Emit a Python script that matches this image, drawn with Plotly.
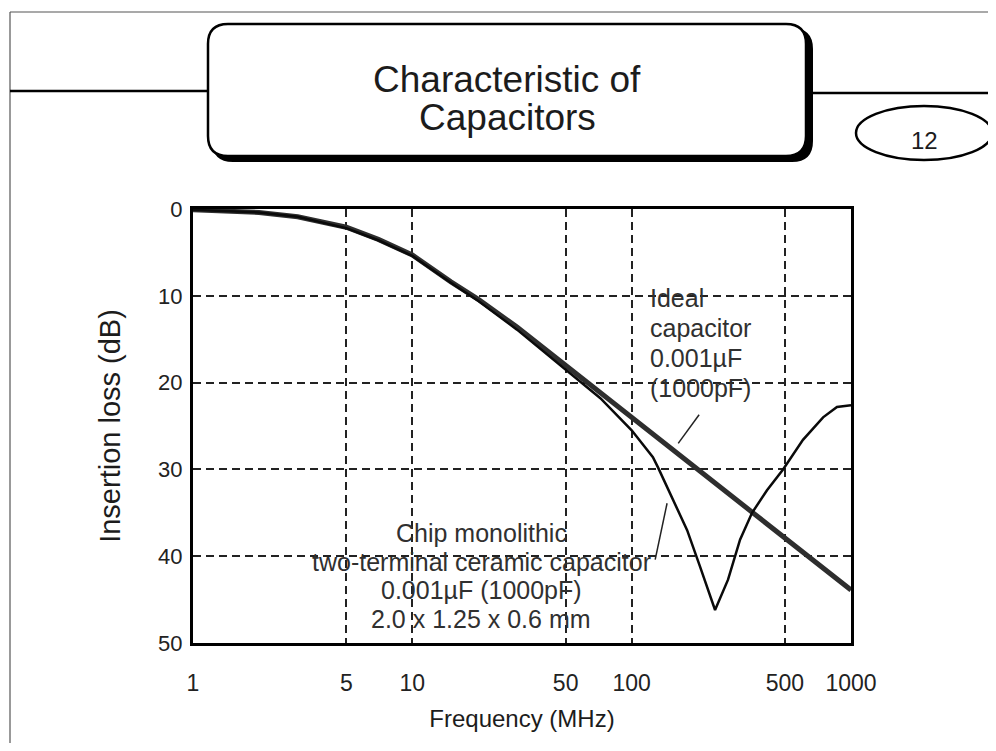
import plotly.graph_objects as go

# ---------------- data ----------------
freq_ideal = [1, 2, 3, 5, 7, 10, 15, 20, 30, 50, 70, 100, 150, 200, 300, 500, 700, 1000]
loss_ideal = [0.1, 0.4, 0.9, 2.1, 3.5, 5.3, 8.4, 10.4, 13.6, 18.0, 20.9, 24.0, 27.4, 30.0, 33.5, 37.9, 40.8, 43.9]

freq_chip = [1, 2, 3, 5, 7, 10, 15, 20, 30, 50, 72, 100, 125, 132, 155, 179, 205, 240,
             275, 312, 354, 414, 490, 604, 746, 863, 1000]
loss_chip = [0.1, 0.4, 0.9, 2.2, 3.6, 5.4, 8.5, 10.6, 13.9, 18.5, 21.8, 25.5, 28.6, 29.8, 33.5, 37.0, 41.2, 46.2,
             42.7, 38.1, 35.0, 32.4, 30.0, 26.6, 24.0, 22.8, 22.6]

x_tick_vals = [1, 5, 10, 50, 100, 500, 1000]
x_tick_text = ["1", "5", "10", "50", "100", "500", "1000"]
y_tick_vals = [0, 10, 20, 30, 40, 50]
y_tick_text = ["0", "10", "20", "30", "40", "50"]

# leader lines (frequency, dB)
leader_ideal_f = [203, 163]
leader_ideal_db = [23.7, 27.0]
leader_chip_f = [145, 128]
leader_chip_db = [33.9, 40.4]

title_lines = ["Characteristic of", "Capacitors"]
ideal_lines = ["Ideal", "capacitor", "0.001\u00b5F", "(1000pF)"]
chip_lines = ["Chip monolithic", "two-terminal ceramic capacitor", "0.001\u00b5F (1000pF)", "2.0 x 1.25 x 0.6 mm"]
page_no = "12"

# ---------------- layout geometry ----------------
OFF = 8  # page body margin of the html page
W, H = 996 - OFF, 751 - 2 * OFF
RL, RR, RT, RB = 193, 851, 209, 643  # plot area in page pixels
L, R, T, B = RL - OFF, RR - OFF, RT - OFF, RB - OFF  # plot area in figure pixels
FONT = "Liberation Sans, Arial, sans-serif"
INK = "#1c1c1c"
TXT = "#303030"


def px(x):
    return (x - RL) / (RR - RL)


def py(y):
    return (RB - y) / (RB - RT)


fig = go.Figure()

fig.add_trace(go.Scatter(x=freq_ideal, y=loss_ideal, mode="lines",
                         line=dict(color="#2e2e2e", width=5), hoverinfo="skip", showlegend=False))
fig.add_trace(go.Scatter(x=freq_chip, y=loss_chip, mode="lines",
                         line=dict(color="#0a0a0a", width=2.5), hoverinfo="skip", showlegend=False))
fig.add_trace(go.Scatter(x=leader_ideal_f, y=leader_ideal_db, mode="lines",
                         line=dict(color="#222", width=1.5), hoverinfo="skip", showlegend=False))
fig.add_trace(go.Scatter(x=leader_chip_f, y=leader_chip_db, mode="lines",
                         line=dict(color="#222", width=1.5), hoverinfo="skip", showlegend=False))

shapes = []
# page frame
shapes.append(dict(type="line", xref="paper", yref="paper", x0=px(10), x1=px(1004), y0=py(12), y1=py(12),
                   line=dict(color="#555", width=1.2)))
shapes.append(dict(type="line", xref="paper", yref="paper", x0=px(10), x1=px(10), y0=py(12), y1=py(760),
                   line=dict(color="#555", width=1.2)))
shapes.append(dict(type="line", xref="paper", yref="paper", x0=px(10), x1=px(208), y0=py(91), y1=py(91),
                   line=dict(color="black", width=2.5)))
shapes.append(dict(type="line", xref="paper", yref="paper", x0=px(810), x1=px(1004), y0=py(93), y1=py(93),
                   line=dict(color="black", width=2.5)))


def rounded(x0, y0, x1, y1, r):
    pts = [
        f"M {px(x0 + r)} {py(y0)}",
        f"L {px(x1 - r)} {py(y0)}",
        f"Q {px(x1)} {py(y0)} {px(x1)} {py(y0 + r)}",
        f"L {px(x1)} {py(y1 - r)}",
        f"Q {px(x1)} {py(y1)} {px(x1 - r)} {py(y1)}",
        f"L {px(x0 + r)} {py(y1)}",
        f"Q {px(x0)} {py(y1)} {px(x0)} {py(y1 - r)}",
        f"L {px(x0)} {py(y0 + r)}",
        f"Q {px(x0)} {py(y0)} {px(x0 + r)} {py(y0)}",
        "Z",
    ]
    return " ".join(pts)


# title box with shadow
shapes.append(dict(type="path", xref="paper", yref="paper", path=rounded(213, 29, 812, 161, 20),
                   fillcolor="black", line=dict(color="black", width=2)))
shapes.append(dict(type="path", xref="paper", yref="paper", path=rounded(208, 24, 806, 156, 20),
                   fillcolor="white", line=dict(color="black", width=2.5)))
# page number ellipse
shapes.append(dict(type="circle", xref="paper", yref="paper", x0=px(856), x1=px(992), y0=py(160), y1=py(106),
                   line=dict(color="black", width=2.5), fillcolor="white"))

annotations = []
for i, t in enumerate(title_lines):
    annotations.append(dict(text=t, xref="paper", yref="paper", x=px(507), y=py(79 + 39 * i),
                            xanchor="center", yanchor="middle", showarrow=False,
                            font=dict(family=FONT, size=37, color=INK)))
annotations.append(dict(text=page_no, xref="paper", yref="paper", x=px(924), y=py(140),
                        xanchor="center", yanchor="middle", showarrow=False,
                        font=dict(family=FONT, size=24, color=INK)))
for i, t in enumerate(ideal_lines):
    annotations.append(dict(text=t, xref="paper", yref="paper", x=px(648), y=py(298 + 30 * i),
                            xanchor="left", yanchor="middle", showarrow=False,
                            font=dict(family=FONT, size=25, color=TXT)))
for i, t in enumerate(chip_lines):
    annotations.append(dict(text=t, xref="paper", yref="paper", x=px(481), y=py(533 + 28.5 * i),
                            xanchor="center", yanchor="middle", showarrow=False,
                            font=dict(family=FONT, size=25, color=TXT)))

fig.update_layout(
    width=W, height=H, autosize=False,
    margin=dict(l=L, r=W - R, t=T, b=H - B, pad=0),
    paper_bgcolor="white", plot_bgcolor="white",
    font=dict(family=FONT, color=INK),
    shapes=shapes, annotations=annotations, showlegend=False,
)

fig.update_xaxes(
    type="log", range=[0, 3],
    tickvals=x_tick_vals, ticktext=x_tick_text, ticks="", ticklabelstandoff=17,
    tickfont=dict(family=FONT, size=23, color="#222"),
    showgrid=True, gridcolor="#222", gridwidth=1.5, griddash="8px,5px",
    showline=True, linecolor="black", linewidth=3, mirror=True, zeroline=False,
    title=dict(text="Frequency (MHz)", font=dict(family=FONT, size=24, color=INK), standoff=16),
)
fig.update_yaxes(
    range=[50, 0],
    tickvals=y_tick_vals, ticktext=y_tick_text, ticks="", ticklabelstandoff=3,
    tickfont=dict(family=FONT, size=22, color="#222"),
    showgrid=True, gridcolor="#222", gridwidth=1.5, griddash="8px,5px",
    showline=True, linecolor="black", linewidth=3, mirror=True, zeroline=False,
    title=dict(text="Insertion loss (dB)", font=dict(family=FONT, size=29, color=INK), standoff=29),
)

fig.write_html("out.html")
